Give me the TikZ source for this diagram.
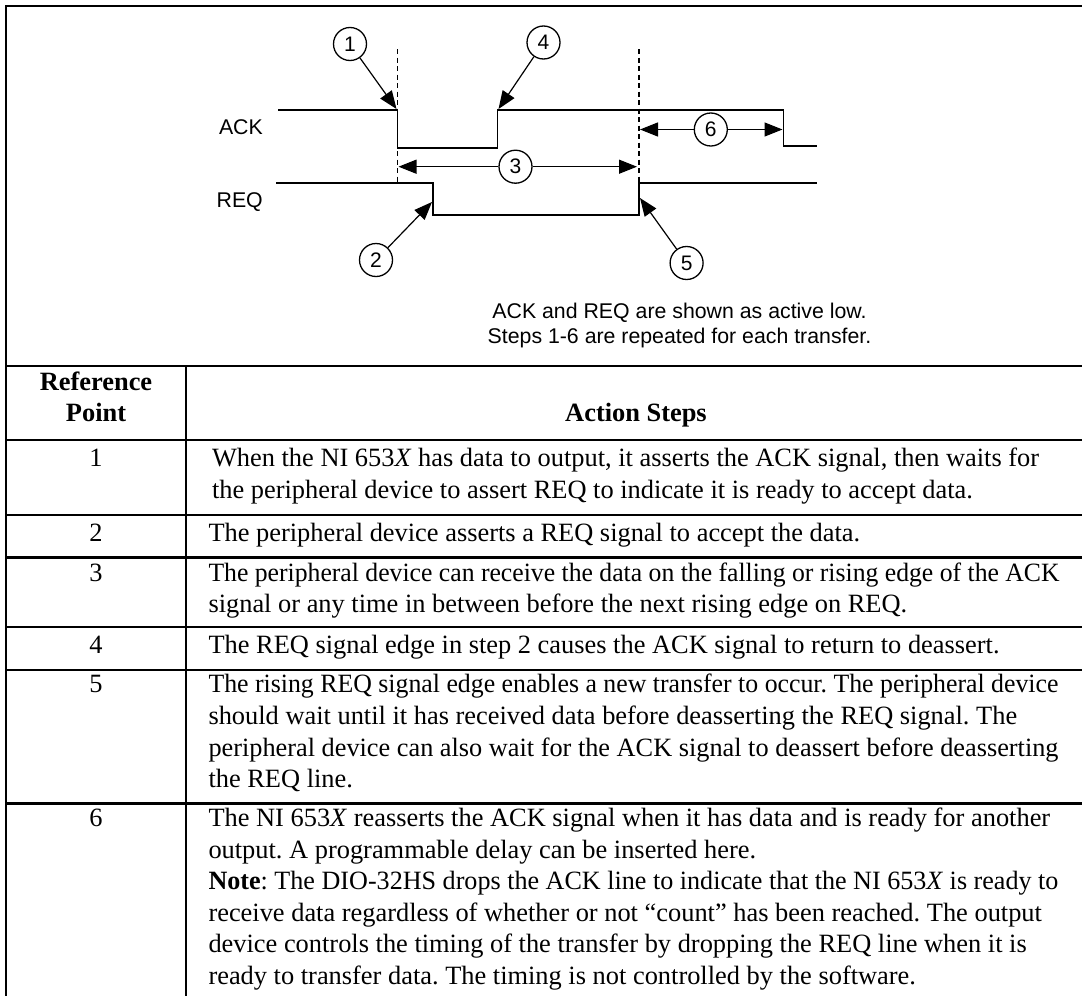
\documentclass[tikz,border=0pt]{standalone}
\usepackage{fontspec}
\usepackage{graphicx}
\setmainfont{Liberation Serif}
\newfontfamily\sansf{Liberation Sans}
\usetikzlibrary{arrows.meta}
\frenchspacing
\newsavebox\fitB
\newlength\fitH
\newcommand\myfit[2]{\sbox\fitB{#2}\setlength\fitH{\ht\fitB}\ifdim\wd\fitB>#1\relax\resizebox{#1}{\fitH}{\usebox\fitB}\else\usebox\fitB\fi}
\newcommand\tf{\fontsize{26.4}{31.5}\selectfont\frenchspacing}
\tikzset{
  tbl/.style={line width=2.8pt, line cap=rect},
  wave/.style={line width=1.4pt},
  guide/.style={line width=1.1pt, dash pattern=on 5pt off 3.5pt},
  num/.style={circle, draw, line width=1.3pt, minimum size=33pt, inner sep=0pt, font=\sansf\fontsize{21}{21}\selectfont},
  arr/.style={line width=1.2pt, -{Triangle[length=18pt,width=14pt]}},
  sig/.style={anchor=base east, inner sep=0pt, font=\sansf\fontsize{21.3}{24}\selectfont},
  captxt/.style={anchor=base, inner sep=0pt, font=\sansf\fontsize{21.3}{24}\selectfont},
  txt/.style={anchor=base west, inner sep=0pt, font=\tf},
  hd/.style={anchor=base, inner sep=0pt, font=\tf\bfseries},
  numtxt/.style={anchor=base, inner sep=0pt, font=\tf}
}
\begin{document}
\begin{tikzpicture}[x=1pt,y=-1pt]
\useasboundingbox (0,0) rectangle (1082,996);
% table frame
\draw[tbl] (1082,6) -- (6,6) -- (6,996);
\draw[tbl] (6,366) -- (1082,366);
\draw[tbl] (186,366) -- (186,996);
\foreach \yy in {440,515,557.7,627,670,803.3}{\draw[tbl] (6,\yy) -- (1082,\yy);}
% waveforms
\draw[wave] (278,110) -- (397.7,110) -- (397.7,148) -- (497.6,148) -- (497.6,110) -- (783.7,110) -- (783.7,146) -- (816.5,146);
\draw[wave] (276,183) -- (433,183) -- (433,215) -- (639,215) -- (639,183) -- (816.5,183);
\draw[guide] (397.7,49) -- (397.7,183);
\draw[guide] (639,49) -- (639,183);
\node[sig] (ack) at (263,134) {ACK};
\node[sig] (req) at (263,207.3) {REQ};
% numbered circles
\node[num] (c1) at (350,44) {1};
\node[num] (c4) at (543.5,42.5) {4};
\node[num] (c3) at (515.5,166.7) {3};
\node[num] (c6) at (710.8,129.5) {6};
\node[num] (c2) at (376,260) {2};
\node[num] (c5) at (686.6,263) {5};
\coordinate (t1) at (396.5,109);
\coordinate (t4) at (498.5,109);
\coordinate (t2) at (432,202);
\coordinate (t5) at (640,198);
\coordinate (t3l) at (398.5,166.7);
\coordinate (t3r) at (637,166.7);
\coordinate (t6l) at (640,129.5);
\coordinate (t6r) at (782.5,129.5);
\draw[arr] (c1) -- (t1);
\draw[arr] (c4) -- (t4);
\draw[arr] (c2) -- (t2);
\draw[arr] (c5) -- (t5);
\draw[arr] (c3) -- (t3l);
\draw[arr] (c3) -- (t3r);
\draw[arr] (c6) -- (t6l);
\draw[arr] (c6) -- (t6r);
\node[captxt] (cap1) at (679.5,318.3) {ACK and REQ are shown as active low.};
\node[captxt] (cap2) at (679.5,343.3) {Steps 1-6 are repeated for each transfer.};
% header
\node[hd] (h1) at (96,390) {Reference};
\node[hd] (h2) at (96,421.7) {Point};
\node[hd] (h3) at (636,421.7) {Action Steps};
% numbers
\node[numtxt] (n1) at (96,466) {1};
\node[numtxt] (n2) at (96,541.7) {2};
\node[numtxt] (n3) at (96,581) {3};
\node[numtxt] (n4) at (96,653) {4};
\node[numtxt] (n5) at (96,692.7) {5};
\node[numtxt] (n6) at (96,826.7) {6};
% row texts
\node[txt] (r1a) at (211.8,466) {\myfit{834pt}{When the NI 653\textit{X} has data to output, it asserts the ACK signal, then waits for}};
\node[txt] (r1b) at (211.8,498) {\myfit{834pt}{the peripheral device to assert REQ to indicate it is ready to accept data.}};
\node[txt] (r2a) at (208.3,541.7) {\myfit{851pt}{The peripheral device asserts a REQ signal to accept the data.}};
\node[txt] (r3a) at (208.3,581) {\myfit{851pt}{The peripheral device can receive the data on the falling or rising edge of the ACK}};
\node[txt] (r3b) at (208.3,612) {\myfit{851pt}{signal or any time in between before the next rising edge on REQ.}};
\node[txt] (r4a) at (208.3,653) {\myfit{851pt}{The REQ signal edge in step 2 causes the ACK signal to return to deassert.}};
\node[txt] (r5a) at (208.3,692.7) {\myfit{850pt}{The rising REQ signal edge enables a new transfer to occur. The peripheral device}};
\node[txt] (r5b) at (208.3,724.3) {\myfit{850pt}{should wait until it has received data before deasserting the REQ signal. The}};
\node[txt] (r5c) at (208.3,756) {\myfit{850pt}{peripheral device can also wait for the ACK signal to deassert before deasserting}};
\node[txt] (r5d) at (208.3,787.7) {\myfit{850pt}{the REQ line.}};
\node[txt] (r6a) at (208.3,826.7) {\myfit{845pt}{The NI 653\textit{X} reasserts the ACK signal when it has data and is ready for another}};
\node[txt] (r6b) at (208.3,858.2) {\myfit{850pt}{output. A programmable delay can be inserted here.}};
\node[txt] (r6c) at (208.3,889.7) {\myfit{850pt}{\textbf{Note}: The DIO-32HS drops the ACK line to indicate that the NI 653\textit{X} is ready to}};
\node[txt] (r6d) at (208.3,921.2) {\myfit{850pt}{receive data regardless of whether or not “count” has been reached. The output}};
\node[txt] (r6e) at (208.3,952.7) {\myfit{850pt}{device controls the timing of the transfer by dropping the REQ line when it is}};
\node[txt] (r6f) at (208.3,984.2) {\myfit{850pt}{ready to transfer data. The timing is not controlled by the software.}};
\end{tikzpicture}
\end{document}
